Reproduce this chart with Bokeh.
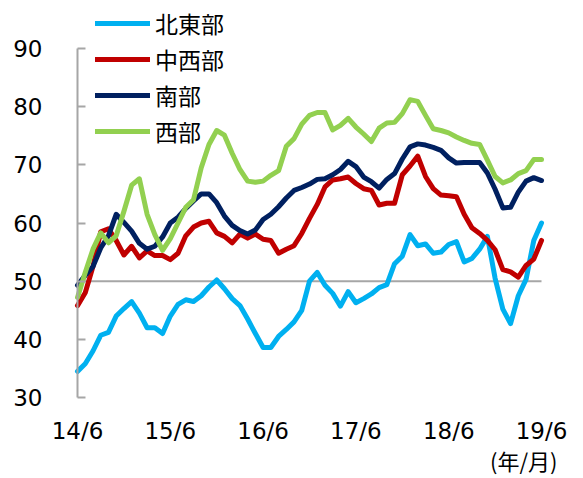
from bokeh.plotting import figure
from bokeh.models import Range1d, FixedTicker, Legend, LegendItem, Label
from bokeh.embed import file_html
from bokeh.resources import INLINE

months = list(range(61))
tick_positions = [0, 12, 24, 36, 48, 60]
tick_labels = ["14/6", "15/6", "16/6", "17/6", "18/6", "19/6"]
y_ticks = [30, 40, 50, 60, 70, 80, 90]

northeast = [34.5, 35.8, 38, 40.7, 41.2, 44, 45.3, 46.5, 44.5, 42, 42, 41, 44, 46, 46.8, 46.5,
             47.5, 49, 50.2, 48.7, 47, 45.8, 43.5, 41, 38.6, 38.6, 40.5, 41.7, 43, 45, 50, 51.5,
             49.3, 47.9, 45.7, 48.2, 46.3, 47, 47.8, 48.9, 49.4, 53, 54.3, 58, 56.1, 56.4, 54.8,
             55, 56.3, 56.8, 53.3, 53.9, 55.5, 57.7, 50.5, 45.2, 42.7, 47.5, 50.3, 57, 60]
midwest = [45.8, 48, 52.5, 58.5, 59, 57, 54.5, 56, 54, 55.2, 54.4, 54.4, 53.7, 54.8, 57.8, 59.3,
           60, 60.3, 58.3, 57.7, 56.6, 58.1, 57.4, 58.1, 57.2, 57, 54.8, 55.5, 56.1, 58.2, 60.8, 63.2,
           66.2, 67.4, 67.6, 67.9, 66.8, 65.9, 65.6, 63.1, 63.4, 63.4, 68.3, 69.8, 71.5, 68, 65.9,
           64.8, 64.7, 64.5, 61.5, 59.2, 58.2, 57, 55.4, 52, 51.6, 50.7, 52.7, 53.8, 57]
south = [49.3, 51, 52.5, 55.7, 57.8, 61.5, 60.1, 58.6, 56.5, 55.5, 56, 57.6, 60, 61, 62.5, 63.8,
         65, 65, 63.5, 61.2, 59.6, 58.7, 58.1, 58.8, 60.6, 61.5, 62.8, 64.3, 65.6, 66.1, 66.7, 67.5,
         67.6, 68.3, 69.2, 70.6, 69.7, 67.9, 67.1, 66, 67.5, 68.5, 71, 73.1, 73.6, 73.4, 73,
         72.5, 71.2, 70.3, 70.4, 70.4, 70.4, 68.6, 65.8, 62.6, 62.7, 65.3, 67.2, 67.8, 67.3]
west = [47.2, 51.5, 55.5, 58.3, 56.6, 57.8, 62, 66.5, 67.6, 61.5, 58, 55.3, 57.3, 60, 62.7, 64,
        69.5, 73.5, 75.9, 75.1, 72, 69.2, 67.2, 67, 67.2, 68.2, 69, 73.2, 74.5, 77, 78.5, 79,
        79, 76, 76.8, 78, 76.5, 75.3, 74, 76.3, 77.2, 77.3, 78.8, 81.2, 80.9, 78.5, 76.2,
        75.9, 75.5, 74.8, 74.2, 73.7, 73.5, 70.8, 68, 66.9, 67.4, 68.5, 69, 70.9, 70.9]

series_names = ["北東部", "中西部", "南部", "西部"]
series_colors = ["#00B0F0", "#C00000", "#002060", "#92D050"]
series_values = [northeast, midwest, south, west]

ref_x = [0, 60]
ref_y = [50, 50]

p = figure(width=583, height=478, output_backend="svg", toolbar_location=None,
           x_range=Range1d(-9.957, 65.43), y_range=Range1d(16.08, 98.25),
           min_border_left=0, min_border_right=0, min_border_top=0, min_border_bottom=0)
p.outline_line_color = None
p.xgrid.visible = False
p.ygrid.visible = False
p.background_fill_color = "white"

p.line(ref_x, ref_y, line_color="#A6A6A6", line_width=2)

renderers = []
for name, color, vals in zip(series_names, series_colors, series_values):
    r = p.line(months, vals, line_color=color, line_width=5, line_join="round", line_cap="round")
    renderers.append(r)

# y axis, drawn at x = 0 inside the frame
ya = p.yaxis[0]
ya.fixed_location = 0
ya.ticker = FixedTicker(ticks=y_ticks)
ya.bounds = (30, 90)
ya.axis_line_color = "#A6A6A6"
ya.axis_line_width = 2
ya.major_tick_line_color = "#A6A6A6"
ya.major_tick_line_width = 2
ya.major_tick_in = 8
ya.major_tick_out = 0
ya.minor_tick_line_color = None
ya.major_label_text_font = "DejaVu Sans"
ya.major_label_text_font_size = "23px"
ya.major_label_text_color = "#000000"
ya.major_label_standoff = 35

# x axis, drawn at y = 30 inside the frame
xa = p.xaxis[0]
xa.fixed_location = 30
xa.ticker = FixedTicker(ticks=tick_positions)
xa.major_label_overrides = {t: l for t, l in zip(tick_positions, tick_labels)}
xa.axis_line_color = None
xa.major_tick_line_color = None
xa.minor_tick_line_color = None
xa.major_tick_out = 0
xa.major_tick_in = 0
xa.major_label_text_font = "DejaVu Sans"
xa.major_label_text_font_size = "23px"
xa.major_label_text_color = "#000000"
xa.major_label_standoff = 20

legend = Legend(items=[LegendItem(label=n, renderers=[r]) for n, r in zip(series_names, renderers)],
                location=(95, 330))
legend.label_text_font = "Noto Sans CJK JP"
legend.label_text_font_size = "23px"
legend.label_text_color = "#000000"
legend.glyph_width = 55
legend.glyph_height = 34
legend.label_height = 34
legend.spacing = 2
legend.padding = 0
legend.margin = 0
legend.label_standoff = 5
legend.border_line_color = None
legend.background_fill_alpha = 0
p.add_layout(legend)

unit_label = Label(x=57.7, y=19.3, text="(年/月)", text_font="Noto Sans CJK JP",
                   text_font_size="22px", text_align="center", text_baseline="middle",
                   text_color="#000000")
p.add_layout(unit_label)

open("out.html", "w").write(file_html(p, INLINE))
